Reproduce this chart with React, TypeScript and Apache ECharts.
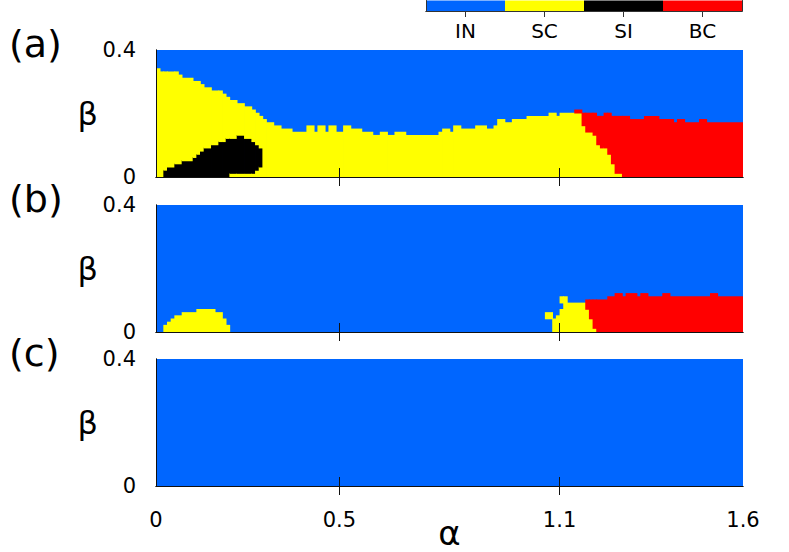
import React, { useEffect, useRef } from 'react';
import * as echarts from 'echarts';

// ---------- data ----------
const STATES = ['IN', 'SC', 'SI', 'BC'];
const STATE_COLORS = ['#0066ff', '#ffff00', '#000000', '#ff0000'];
const PANEL_LABELS = ['(a)', '(b)', '(c)'];
const X_LABEL_VALUES = [0, 0.5, 1.1, 1.6];
const X_TICK_VALUES = [0.5, 1.1];
const X_MIN = 0;
const X_MAX = 1.6;
const Y_MIN = 0;
const Y_MAX = 0.4;
const STEP = 0.01; // grid step in alpha and beta
const N_COLS = 160; // alpha 0 .. 1.6
const N_ROWS = 40; // beta 0 .. 0.4

// Panel (a): height (rows) of the non-IN region, as runs [firstColumn, height]
const A_TOP_RUNS = [
  [0, 34], [1, 33], [6, 32], [7, 31], [10, 30], [12, 29], [13, 28], [15, 27], [18, 26], [19, 25],
  [20, 24], [22, 23], [24, 22], [26, 21], [27, 20], [28, 19], [29, 18], [30, 17], [32, 16], [34, 15],
  [37, 14], [41, 16], [43, 14], [44, 16], [46, 14], [47, 16], [49, 14], [51, 16], [53, 15], [56, 14],
  [59, 13], [61, 14], [63, 13], [65, 14], [68, 13], [77, 14], [78, 15], [80, 14], [81, 16], [83, 15],
  [87, 16], [90, 15], [92, 16], [93, 18], [95, 17], [97, 18], [101, 19], [107, 20], [109, 19], [110, 20],
  [114, 21], [116, 20], [120, 19], [122, 20], [124, 19], [129, 18], [133, 19], [137, 18], [141, 17],
  [142, 18], [144, 17], [148, 18], [150, 17],
];
// Panel (a): first BC column for each row (row 0 = lowest beta)
const A_BC_START = [127, 125, 125, 125, 124, 124, 124, 123, 123, 121, 120, 120, 120, 119, 117, 117, 116, 116, 116, 116, 114];
// Panel (a): SI cells as [firstCol, lastCol, lowRow, highRow]
const A_SI_RUNS = [
  [2, 2, 0, 1], [3, 4, 0, 2], [5, 6, 0, 3], [7, 9, 0, 4], [10, 10, 0, 5], [11, 11, 0, 6], [12, 12, 0, 7],
  [13, 14, 0, 8], [15, 16, 0, 9], [17, 18, 0, 10], [19, 19, 0, 11], [20, 21, 1, 11], [22, 23, 1, 12],
  [24, 25, 1, 11], [26, 26, 1, 10], [27, 27, 2, 9], [28, 28, 3, 8],
];

// Panel (b): left SC bump as [firstCol, lastCol, height]
const B_SC_LEFT_RUNS = [
  [2, 2, 2], [3, 3, 3], [4, 4, 4], [5, 6, 5], [7, 10, 6], [11, 15, 7], [16, 17, 6], [18, 18, 4], [19, 19, 2],
];
// Panel (b): SC spans near alpha = 1.1 as [row, firstCol, lastCol]
const B_SC_SPANS = [
  [0, 108, 119], [1, 108, 118], [2, 108, 118], [3, 108, 118], [4, 109, 117], [5, 110, 117], [6, 110, 117],
  [7, 111, 116], [8, 111, 116], [9, 110, 111], [10, 110, 111], [4, 106, 107], [5, 106, 107],
];
// Panel (b): first BC column for each row
const B_BC_START = [120, 119, 119, 119, 118, 118, 118, 117, 117, 117, 117, 117];
// Panel (b): BC height as [firstCol, lastCol, height]
const B_BC_TOP_RUNS = [
  [117, 122, 10], [123, 124, 11], [125, 126, 12], [127, 127, 11], [128, 130, 12], [131, 131, 11],
  [132, 133, 12], [134, 137, 11], [138, 139, 12], [140, 150, 11], [151, 152, 12], [153, 159, 11],
];

// ---------- build cell grids ----------
type Grid = number[][];
function emptyGrid(): Grid {
  const g: Grid = [];
  for (let c = 0; c < N_COLS; c++) g.push(new Array(N_ROWS).fill(0));
  return g;
}
function heightFromRuns(runs: number[][], c: number) {
  let h = 0;
  for (const [s, v] of runs) if (c >= s) h = v;
  return h;
}
function buildA(): Grid {
  const g = emptyGrid();
  for (let c = 0; c < N_COLS; c++) {
    const top = heightFromRuns(A_TOP_RUNS, c);
    for (let r = 0; r < top; r++) {
      const bc = A_BC_START[r];
      g[c][r] = bc !== undefined && c >= bc ? 3 : 1;
    }
  }
  for (const [c0, c1, lo, hi] of A_SI_RUNS)
    for (let c = c0; c <= c1; c++) for (let r = lo; r <= hi; r++) g[c][r] = 2;
  return g;
}
function buildB(): Grid {
  const g = emptyGrid();
  for (const [c0, c1, h] of B_SC_LEFT_RUNS)
    for (let c = c0; c <= c1; c++) for (let r = 0; r < h; r++) g[c][r] = 1;
  for (const [r, c0, c1] of B_SC_SPANS) for (let c = c0; c <= c1; c++) g[c][r] = 1;
  for (const [c0, c1, h] of B_BC_TOP_RUNS)
    for (let c = c0; c <= c1; c++)
      for (let r = 0; r < h; r++) if (c >= B_BC_START[r]) g[c][r] = 3;
  return g;
}
function buildC(): Grid {
  return emptyGrid();
}
// IN (state 0) is drawn as one rect over the whole panel; other states as merged runs on top
function toRects(g: Grid) {
  const cols: { sig: string; runs: number[][] }[] = [];
  for (let c = 0; c < N_COLS; c++) {
    const runs: number[][] = [];
    let r0 = 0;
    for (let r = 1; r <= N_ROWS; r++) {
      if (r === N_ROWS || g[c][r] !== g[c][r0]) {
        if (g[c][r0] !== 0) runs.push([r0, r - 1, g[c][r0]]);
        r0 = r;
      }
    }
    cols.push({ sig: JSON.stringify(runs), runs });
  }
  const out: number[][] = [[X_MIN, X_MAX, Y_MIN, Y_MAX, 0]];
  let c0 = 0;
  for (let c = 1; c <= N_COLS; c++) {
    if (c === N_COLS || cols[c].sig !== cols[c0].sig) {
      for (const [ra, rb, s] of cols[c0].runs)
        out.push([c0 * STEP, c * STEP, ra * STEP, (rb + 1) * STEP, s]);
      c0 = c;
    }
  }
  return out;
}

const FONT = 'DejaVu Sans';
const GRID_TOPS = [50, 205, 359];

export default function App() {
  const ref = useRef<HTMLDivElement>(null);
  useEffect(() => {
    if (!ref.current) return;
    const chart = echarts.init(ref.current, undefined, { renderer: 'svg' });
    const panels = [buildA(), buildB(), buildC()].map(toRects);
    const lineStyle = { color: '#111', width: 1 };

    const grid: any[] = GRID_TOPS.map((t) => ({ left: 156, top: t, width: 587, height: 127, outerBoundsMode: 'none', containLabel: false }));
    grid.push({ left: 426, top: 0.5, width: 316, height: 10.5, outerBoundsMode: 'none', containLabel: false });

    const xAxis: any[] = [];
    const yAxis: any[] = [];
    for (let i = 0; i < 3; i++) {
      xAxis.push({
        gridIndex: i, type: 'value', min: X_MIN, max: X_MAX, position: 'bottom', z: 10,
        axisLine: { show: true, lineStyle },
        axisTick: { show: true, inside: true, length: 9, customValues: X_TICK_VALUES, lineStyle },
        axisLabel: { show: i === 2, customValues: X_LABEL_VALUES, fontSize: 21, margin: 23, color: '#000', fontFamily: FONT },
        splitLine: { show: false },
        name: i === 2 ? 'α' : '', nameLocation: 'middle', nameGap: 30, nameMoveOverlap: false,
        nameTextStyle: { fontSize: 34, lineHeight: 34, color: '#000', fontFamily: FONT },
      });
      xAxis.push({
        gridIndex: i, type: 'value', min: X_MIN, max: X_MAX, position: 'top', z: 10,
        axisLine: { show: true, lineStyle },
        axisTick: { show: true, inside: true, length: 9, customValues: X_TICK_VALUES, lineStyle },
        axisLabel: { show: false }, splitLine: { show: false },
      });
      yAxis.push({
        gridIndex: i, type: 'value', min: Y_MIN, max: Y_MAX, interval: 0.4, position: 'left', z: 10,
        axisLine: { show: true, lineStyle }, axisTick: { show: false },
        axisLabel: { fontSize: 21, margin: 20, color: '#000', fontFamily: FONT },
        splitLine: { show: false },
        name: 'β', nameLocation: 'middle', nameGap: 58, nameRotate: 0, nameMoveOverlap: false,
        nameTextStyle: { fontSize: 32, color: '#000', fontFamily: FONT },
      });
      yAxis.push({
        gridIndex: i, type: 'value', min: Y_MIN, max: Y_MAX, interval: 0.4, position: 'right', z: 10,
        axisLine: { show: true, lineStyle }, axisTick: { show: false }, axisLabel: { show: false },
        splitLine: { show: false },
      });
    }
    xAxis.push({
      gridIndex: 3, type: 'category', data: STATES, position: 'bottom', z: 10,
      axisLine: { show: true, lineStyle: { color: '#333', width: 1 } },
      axisTick: { show: true, alignWithLabel: true, length: 6, lineStyle: { color: '#333' } },
      axisLabel: { fontSize: 20, margin: 10, color: '#000', fontFamily: FONT },
    });
    xAxis.push({
      gridIndex: 3, type: 'category', data: STATES, position: 'top', z: 10,
      axisLine: { show: true, lineStyle: { color: '#333', width: 1 } },
      axisTick: { show: false }, axisLabel: { show: false },
    });
    yAxis.push({
      gridIndex: 3, type: 'value', min: 0, max: 1, position: 'left', z: 10,
      axisLine: { show: true, lineStyle: { color: '#333', width: 1 } },
      axisTick: { show: false }, axisLabel: { show: false }, splitLine: { show: false },
    });
    yAxis.push({
      gridIndex: 3, type: 'value', min: 0, max: 1, position: 'right', z: 10,
      axisLine: { show: true, lineStyle: { color: '#333', width: 1 } },
      axisTick: { show: false }, axisLabel: { show: false }, splitLine: { show: false },
    });

    const series: any[] = panels.map((data, i) => ({
      type: 'custom',
      xAxisIndex: 2 * i,
      yAxisIndex: 2 * i,
      silent: true,
      encode: { x: [0, 1], y: [2, 3] },
      data,
      renderItem: (_params: any, api: any) => {
        const x0 = api.value(0), x1 = api.value(1), y0 = api.value(2), y1 = api.value(3);
        const s = api.value(4);
        const tl = api.coord([x0, y1]);
        const br = api.coord([x1, y0]);
        const padR = x1 < X_MAX - 1e-9 ? 0.8 : 0;
        const padT = y1 < Y_MAX - 1e-9 ? 0.8 : 0;
        return {
          type: 'rect',
          shape: { x: tl[0], y: tl[1] - padT, width: br[0] - tl[0] + padR, height: br[1] - tl[1] + padT },
          style: { fill: STATE_COLORS[s] },
        };
      },
    }));
    series.push({
      type: 'bar',
      xAxisIndex: 6,
      yAxisIndex: 6,
      barWidth: '100%',
      silent: true,
      data: STATES.map((_, i) => ({ value: 1, itemStyle: { color: STATE_COLORS[i] } })),
    });

    chart.setOption({
      animation: false,
      backgroundColor: '#ffffff',
      textStyle: { fontFamily: FONT },
      grid,
      xAxis,
      yAxis,
      series,
      graphic: PANEL_LABELS.map((t, i) => ({
        type: 'text',
        x: 9,
        y: [44, 199, 353][i],
        style: { text: t, fontSize: 38, fontFamily: FONT, fill: '#000', verticalAlign: 'middle', align: 'left' },
      })),
    });
    return () => chart.dispose();
  }, []);
  return <div ref={ref} style={{ position: 'absolute', left: 0, top: 0, width: 789, height: 552 }} />;
}
